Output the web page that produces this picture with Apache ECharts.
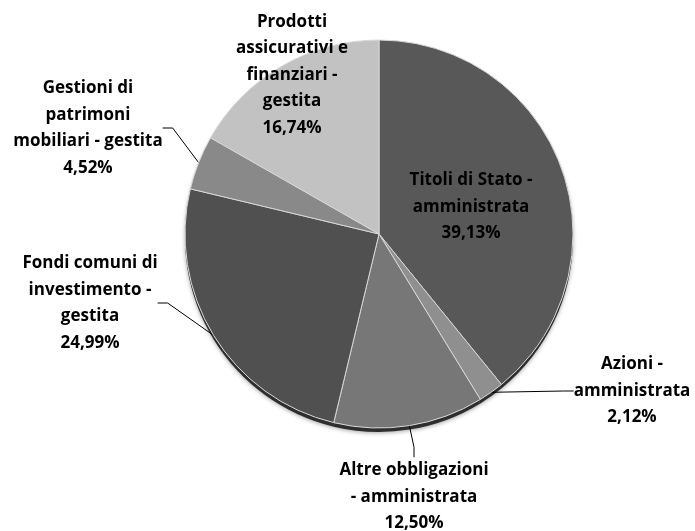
<!DOCTYPE html>
<html>
<head>
<meta charset="utf-8">
<script src="https://cdn.jsdelivr.net/npm/echarts@6/dist/echarts.min.js"></script>
<style>
  html, body { margin: 0; padding: 0; background: #fff; }
  #main { width: 695px; height: 531px; }
</style>
</head>
<body>
<div id="main"></div>
<script>
var categorie = [
    'Titoli di Stato -\namministrata',
    'Azioni -\namministrata',
    'Altre obbligazioni\n- amministrata',
    'Fondi comuni di\ninvestimento -\ngestita',
    'Gestioni di\npatrimoni\nmobiliari - gestita',
    'Prodotti\nassicurativi e\nfinanziari -\ngestita'
];
var valori = [39.13, 2.12, 12.50, 24.99, 4.52, 16.74];
var colori = ['#585858', '#8f8f8f', '#777777', '#505050', '#898989', '#c2c2c2'];
// posizione delle etichette (centro del blocco di testo)
var posEtichette = [[471, 207], [632, 391], [414, 497], [90, 303], [88, 128], [292, 75]];

var chart = echarts.init(document.getElementById('main'));

var data = [];
var bordo = [];
for (var i = 0; i < valori.length; i++) {
    data.push({
        name: categorie[i],
        value: valori[i],
        itemStyle: { color: colori[i] },
        label: { position: (i == 0 || i == 5) ? 'inside' : 'outside' },
        labelLine: { show: !(i == 0 || i == 5) }
    });
    bordo.push({ name: categorie[i], value: valori[i] });
}

var option = {
    animation: false,
    series: [{
        // spessore "3D" sotto la torta
        type: 'pie',
        silent: true,
        z: 1,
        center: [379, 238],
        radius: 194,
        startAngle: 90,
        itemStyle: {
            color: '#2e2e2e',
            shadowColor: 'rgba(0,0,0,0.35)',
            shadowBlur: 4,
            shadowOffsetY: 1
        },
        label: { show: false },
        labelLine: { show: false },
        data: bordo
    }, {
        type: 'pie',
        z: 2,
        center: [379, 234],
        radius: 194,
        startAngle: 90,
        clockwise: true,
        avoidLabelOverlap: false,
        itemStyle: {
            borderColor: '#d8d8d8',
            borderWidth: 1
        },
        label: {
            color: '#000',
            fontFamily: 'Open Sans',
            fontWeight: 'bold',
            fontSize: 17,
            lineHeight: 26.5,
            align: 'center',
            formatter: function (p) {
                return p.name + '\n' + p.value.toFixed(2).replace('.', ',') + '%';
            }
        },
        labelLine: {
            show: true,
            length: 15,
            length2: 10,
            lineStyle: { color: '#000', width: 1 }
        },
        labelLayout: function (p) {
            var pos = posEtichette[p.dataIndex];
            return { x: pos[0], y: pos[1], align: 'center', verticalAlign: 'middle' };
        },
        data: data
    }]
};
chart.setOption(option);
</script>
</body>
</html>
